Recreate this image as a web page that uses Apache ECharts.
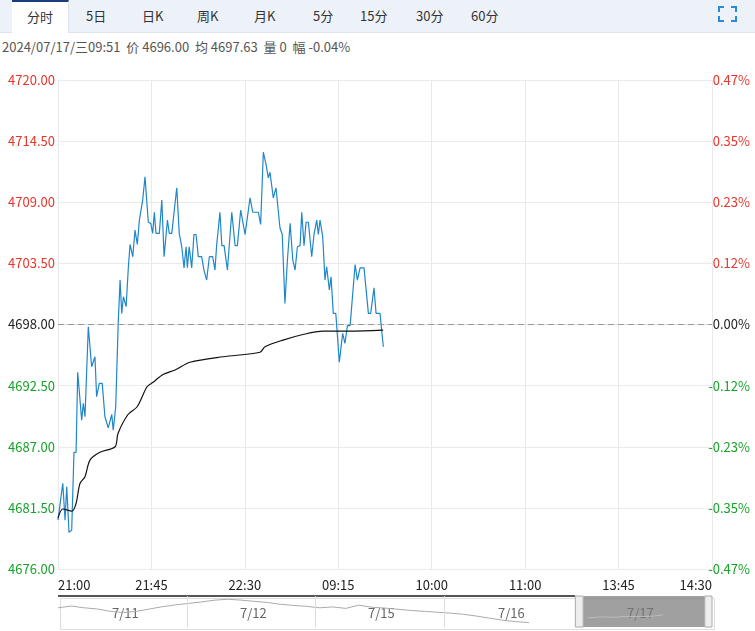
<!DOCTYPE html>
<html><head><meta charset="utf-8">
<script src="https://cdn.jsdelivr.net/npm/echarts@6/dist/echarts.min.js"></script>
<style>
body{margin:0;width:755px;height:631px;overflow:hidden;background:#fff;font-family:"Noto Sans CJK SC","Noto Sans",sans-serif}
#tabs{position:absolute;left:0;top:0;width:755px;height:32px;background:#edf2f9;border-bottom:1px solid #dde4ee}
.tab{position:absolute;top:0;height:32px;line-height:32px;font-size:13px;color:#333}
.sel{background:#fff;border-top:2px solid #1a3d7c;height:31px;line-height:30px;border-right:1px solid #dde4ee}
#info{position:absolute;left:2px;top:37px;font-size:13px;color:#555;white-space:pre}
#c{position:absolute;left:0;top:0;width:755px;height:631px}
</style></head><body>
<div id="tabs">
<div class="tab sel" style="left:12px;width:56px;text-align:center">分时</div>
<div class="tab" style="left:86px">5日</div>
<div class="tab" style="left:142px">日K</div>
<div class="tab" style="left:197px">周K</div>
<div class="tab" style="left:254px">月K</div>
<div class="tab" style="left:313px">5分</div>
<div class="tab" style="left:360px">15分</div>
<div class="tab" style="left:416px">30分</div>
<div class="tab" style="left:471px">60分</div>
</div>
<div id="info">2024/07/17/三09:51  价 4696.00  均 4697.63  量 0  幅 -0.04%</div>
<div id="c"></div>
<script>
const timeLabels=['21:00','21:45','22:30','09:15','10:00','11:00','13:45','14:30'];
const preClose=4698;
const priceIdx=[0,2.3,3.4,4.2,5.3,6.6,7.7,8.7,9.5,11.4,12.2,13.0,14.6,16.2,17.8,18.6,19.9,21.3,22.6,24.2,25.9,26.6,27.8,29.0,29.9,30.7,31.5,32.8,33.9,34.7,36.0,37.1,38.2,39.2,40.8,41.9,42.7,43.5,44.7,45.6,46.4,47.2,48.8,50.0,51.1,52.0,52.7,53.6,54.8,55.9,57.2,58.4,59.6,60.7,61.7,62.3,63.2,64.4,65.5,66.5,67.6,69.2,70.3,71.6,72.9,74.5,75.6,76.4,78.0,78.9,80.0,81.6,83.7,85.3,86.4,88.0,90.1,92.5,93.8,96.5,97.6,98.9,100.2,101.3,102.1,103.7,105.0,105.8,106.9,108.0,109.3,110.5,111.8,113.1,114.2,115.3,116.6,117.4,118.5,119.5,120.6,122.2,123.3,124.6,125.4,126.2,127.5,128.6,129.4,130.7,131.5,132.6,133.8,135.5,137.1,138.2,139.4,140.7,143.1,144.2,145.5,147.4,149.5,150.6,152.2,153.2,155.1,156.7];
const priceVal=[4680.4,4683.7,4680.4,4683.4,4679.3,4679.5,4686.5,4686.5,4693.7,4689.4,4690.9,4689.7,4697.8,4694.2,4695.1,4691.5,4692.7,4692.7,4689.7,4688.7,4689.9,4688.5,4690.6,4698.1,4702.0,4699.0,4700.5,4699.6,4703.2,4705.2,4704.1,4706.5,4705.2,4707.4,4709.2,4711.3,4711.3,4707.2,4707.1,4706.2,4708.1,4706.2,4706.2,4709.2,4704.1,4704.1,4707.4,4706.2,4706.2,4708.1,4710.3,4706.2,4705.0,4703.1,4705.0,4703.1,4705.0,4703.1,4706.1,4706.1,4704.1,4704.1,4702.9,4702.0,4704.1,4704.1,4702.9,4705.1,4708.1,4705.1,4705.1,4702.9,4708.1,4705.1,4705.1,4708.3,4706.1,4709.4,4708.1,4708.1,4707.0,4713.5,4712.4,4711.2,4711.7,4709.4,4710.3,4710.3,4706.7,4706.1,4699.9,4703.8,4707.1,4703.8,4702.9,4705.0,4705.1,4708.1,4705.1,4707.2,4707.2,4704.1,4706.1,4707.4,4706.1,4707.4,4705.9,4702.0,4703.2,4701.1,4702.3,4699.0,4699.0,4694.6,4697.2,4696.3,4697.9,4697.9,4703.4,4702.0,4703.1,4703.1,4699.0,4699.0,4701.3,4699.0,4699.0,4696.0];
const avgIdx=[0,2.4,6.7,8.7,10.6,13,15.4,20.2,27.5,28.9,33.7,38.1,42.9,45.8,50.6,56.4,63.6,79.5,97.3,99.7,108.4,118,127.6,140.7,156.6];
const avgVal=[4680.6,4681.4,4681.2,4681.9,4683.7,4684.3,4685.8,4686.5,4687.0,4688.2,4689.9,4690.6,4692.4,4692.8,4693.5,4693.9,4694.6,4695.1,4695.5,4696.0,4696.6,4697.1,4697.4,4697.4,4697.5];
const navX=[0,2,4,6,8,10,12,14,16,18,20,22,24,26,28,30,32,34,36,38,40,42,44,46,48,50,52,54,56,58,60,62,64,66,68,70,72];
const navV=[5,5.6,5,4.6,3.8,3.4,3.8,4.6,5.4,6,6.5,7,7.6,7.9,7.6,7.2,6.8,6.2,5.8,5.5,5,5.3,4.8,5.9,5.2,4.9,4.5,4.1,3.8,3.5,3.2,2.8,2.2,1.5,0.8,0.3,0];
const nav17X=[81,83,85,87,89,91,92.5];
const nav17V=[1.6,1.9,1.8,2.1,2.0,2.2,2.6];
const dayLabels=['7/11','7/12','7/15','7/16','7/17'];

const RED='#e8352a',GREEN='#17a22a';
const off=v=>+(v-preClose).toFixed(2);
const chart=echarts.init(document.getElementById('c'));
const F='"Noto Sans CJK SC","Noto Sans",sans-serif';
chart.setOption({
  animation:false,
  grid:[{left:58,right:43,top:80,bottom:62,show:false},{left:58,right:43,top:596,height:31}],
  xAxis:[{type:'value',min:0,max:315,interval:45,
    axisLine:{show:true,lineStyle:{color:'#ddd'}},axisTick:{show:false},
    splitLine:{show:true,lineStyle:{color:'#eaeaea'}},
    axisLabel:{color:'#222',fontSize:13,fontFamily:F,margin:10,alignMinLabel:'left',alignMaxLabel:'right',
      formatter:(v)=>timeLabels[Math.round(v/45)]}},
    {gridIndex:1,type:'value',min:0,max:100,show:false}],
  yAxis:[{type:'value',min:-22,max:22,interval:5.5,position:'left',
    axisLine:{show:false},axisTick:{show:false},
    splitLine:{lineStyle:{color:'#eaeaea'}},
    axisLabel:{inside:false,margin:3,fontSize:13,fontFamily:F,align:'right',
      formatter:v=>(v+preClose).toFixed(2),
      color:v=>v>0.01?RED:(v<-0.01?GREEN:'#222')}},
    {type:'value',min:-22,max:22,interval:5.5,position:'right',
    axisLine:{show:false},axisTick:{show:false},splitLine:{show:false},
    axisLabel:{margin:38,fontSize:13,fontFamily:F,align:'right',
      formatter:v=>(v/preClose*100).toFixed(2)+'%',
      color:v=>v>0.01?RED:(v<-0.01?GREEN:'#222')}},
    {gridIndex:1,type:'value',min:-1.5,max:9,show:false}],
  series:[
    {type:'line',data:priceIdx.map((x,i)=>[x,off(priceVal[i])]),showSymbol:false,
      lineStyle:{color:'#1f87c9',width:1.2},
      markLine:{symbol:'none',silent:true,label:{show:false},lineStyle:{color:'#999',type:[6,4],width:1},data:[{yAxis:0}]}},
    {type:'line',data:avgIdx.map((x,i)=>[x,off(avgVal[i])]),showSymbol:false,smooth:0.3,
      lineStyle:{color:'#111',width:1.2}},
    {type:'line',xAxisIndex:1,yAxisIndex:2,data:navX.map((x,i)=>[x,navV[i]]),showSymbol:false,
      lineStyle:{color:'#aaa',width:1},
      markLine:{symbol:'none',silent:true,label:{show:false},lineStyle:{color:'#ddd',type:'solid',width:1},
        data:[{xAxis:19.7},{xAxis:39.3},{xAxis:59}]},
      markArea:{silent:true,data:[
        [{xAxis:80.3,itemStyle:{color:'rgba(120,120,120,0.7)'}},{xAxis:98.9}],
        [{xAxis:79.1,itemStyle:{color:'#eee',borderColor:'#aaa',borderWidth:1}},{xAxis:80.3}],
        [{xAxis:98.9,itemStyle:{color:'#eee',borderColor:'#aaa',borderWidth:1}},{xAxis:100}]]}},
    {type:'line',xAxisIndex:1,yAxisIndex:2,data:nav17X.map((x,i)=>[x,nav17V[i]]),showSymbol:false,
      lineStyle:{color:'#bbb',width:1}}
  ],
  graphic:[
    {type:'rect',left:58,top:595,shape:{width:517,height:2},style:{fill:'#555'}},
    {type:'rect',left:58,top:596,shape:{width:654,height:31},style:{fill:'none',stroke:'#ddd'}},
    ...dayLabels.map((t,i)=>({type:'text',left:[112,240,368,498,627][i],top:607,style:{text:t,fill:'#666',font:'13px '+F}})),
    {type:'polyline',shape:{points:[[719,12],[719,7],[724,7]]},style:{stroke:'#2b8ad6',lineWidth:2,fill:null}},
    {type:'polyline',shape:{points:[[731,7],[736,7],[736,12]]},style:{stroke:'#2b8ad6',lineWidth:2,fill:null}},
    {type:'polyline',shape:{points:[[719,16],[719,21],[724,21]]},style:{stroke:'#2b8ad6',lineWidth:2,fill:null}},
    {type:'polyline',shape:{points:[[731,21],[736,21],[736,16]]},style:{stroke:'#2b8ad6',lineWidth:2,fill:null}}
  ]
});
</script></body></html>
